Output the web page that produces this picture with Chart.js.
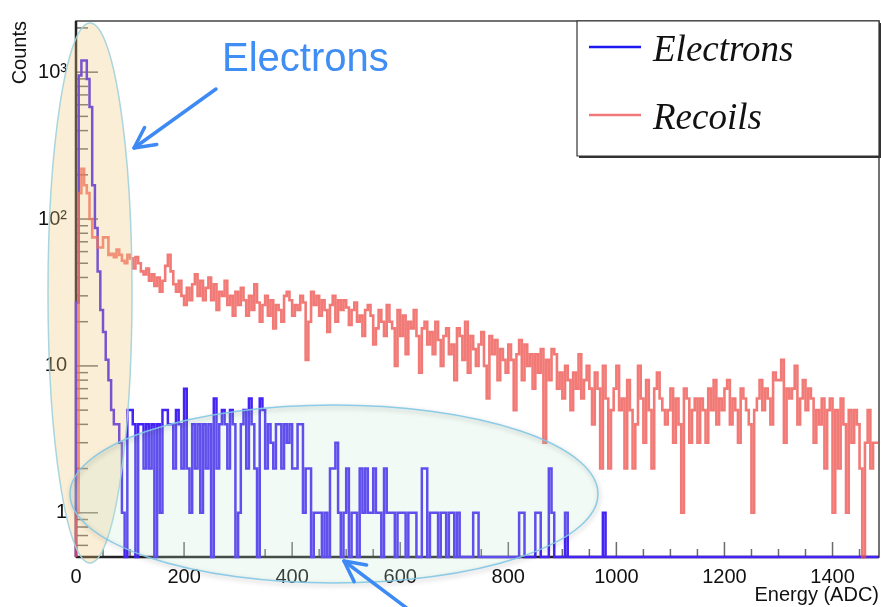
<!DOCTYPE html>
<html>
<head>
    <title>Electrons vs Recoils</title>
    <script src="https://cdn.jsdelivr.net/npm/chart.js"></script>
    <style>
        body {
            margin: 0;
            background: #fff;
        }
        #wrap {
            width: 881px;
            height: 607px;
        }
    </style>
</head>
<body>
    <div id="wrap"><canvas id="chart" width="881" height="607"></canvas></div>

    <script>
        // Histogram binning and axis ranges
        const BIN_WIDTH = 5;
        const X_MAX = 1486;
        const Y_MIN = 0.5;
        const Y_MAX = 2230;

        const xTickValues = [0, 200, 400, 600, 800, 1000, 1200, 1400];
        const yTickValues = [1, 10, 100, 1000];
        const yTickLabels = ['1', '10', '10²', '10³'];

        const seriesNames = ['Electrons', 'Recoils'];

        // Counts per 5 ADC bin
        const electrons = [
            0, 27, 950, 1200, 1200, 900, 580, 170, 87, 44,
            24, 17, 11, 8, 5, 4, 4, 3, 1, 0,
            5, 5, 4, 0, 4, 4, 2, 4, 2, 4,
            0, 4, 1, 5, 5, 4, 4, 2, 5, 4,
            2, 7, 2, 1, 4, 2, 4, 1, 4, 2,
            4, 0, 6, 2, 4, 5, 4, 2, 5, 4,
            0, 1, 4, 5, 2, 6, 4, 2, 0, 6,
            5, 2, 4, 3, 2, 4, 4, 2, 4, 3,
            4, 2, 2, 4, 4, 1, 2, 2, 0, 1,
            1, 1, 0, 1, 0, 2, 2, 3, 1, 0,
            1, 2, 0, 1, 1, 0, 2, 1, 2, 1,
            1, 2, 1, 1, 0, 2, 1, 1, 1, 0,
            1, 1, 1, 0, 1, 1, 1, 0, 0, 2,
            2, 0, 1, 1, 1, 0, 1, 1, 0, 1,
            1, 0, 1, 0, 0, 0, 0, 0, 1, 1,
            0, 0, 0, 0, 0, 0, 0, 0, 0, 0,
            0, 0, 0, 0, 0, 1, 1, 0, 0, 0,
            0, 1, 1, 0, 0, 0, 2, 1, 0, 0,
            0, 0, 1, 0, 0, 0, 0, 0, 0, 0,
            0, 0, 0, 0, 0, 0, 1, 0, 0, 0,
            0, 0, 0, 0, 0, 0, 0, 0, 0, 0,
            0, 0, 0, 0, 0, 0, 0, 0, 0, 0,
            0, 0, 0, 0, 0, 0, 0, 0, 0, 0,
            0, 0, 0, 0, 0, 0, 0, 0, 0, 0,
            0, 0, 0, 0, 0, 0, 0, 0, 0, 0,
            0, 0, 0, 0, 0, 0, 0, 0, 0, 0,
            0, 0, 0, 0, 0, 0, 0, 0, 0, 0,
            0, 0, 0, 0, 0, 0, 0, 0, 0, 0,
            0, 0, 0, 0, 0, 0, 0, 0, 0, 0,
            0, 0, 0, 0, 0, 0, 0
        ];

        const recoils = [
            0, 1, 150, 220, 170, 150, 100, 75, 75, 64,
            64, 75, 75, 57, 58, 55, 62, 57, 52, 50,
            57, 54, 46, 55, 50, 44, 42, 46, 38, 42,
            35, 40, 32, 38, 48, 57, 44, 36, 32, 38,
            30, 26, 34, 28, 36, 42, 30, 38, 28, 34,
            40, 28, 36, 24, 32, 30, 38, 26, 30, 22,
            32, 26, 34, 28, 22, 30, 24, 36, 27, 20,
            26, 30, 22, 28, 18, 26, 24, 20, 30, 32,
            28, 22, 26, 24, 30, 27, 11, 20, 32, 26,
            30, 22, 28, 24, 17, 26, 30, 20, 28, 24,
            28, 25, 19, 24, 27, 20, 22, 16, 24, 26,
            22, 14, 18, 24, 20, 16, 26, 20, 18, 10,
            24, 16, 22, 12, 20, 18, 24, 16, 9, 18,
            20, 14, 17, 12, 20, 15, 10, 16, 18, 12,
            14, 8, 18, 16, 11, 20, 9, 16, 13, 10,
            14, 17, 10, 6, 16, 12, 15, 8, 13, 11,
            9, 14, 11, 5, 12, 15, 8, 14, 10, 12,
            7, 12, 9, 13, 3, 11, 8, 13, 12, 7,
            9, 6, 10, 8, 5, 9, 7, 12, 6, 8,
            10, 7, 4, 9, 7, 2, 10, 6, 2, 5,
            7, 10, 5, 6, 2, 8, 5, 2, 4, 10,
            6, 3, 8, 5, 2, 7, 9, 6, 5, 4,
            5, 7, 3, 6, 4, 1, 7, 6, 3, 5,
            6, 3, 6, 5, 3, 7, 5, 8, 4, 6,
            5, 7, 8, 4, 6, 5, 3, 7, 6, 5,
            4, 1, 5, 6, 8, 5, 7, 6, 4, 9,
            8, 8, 11, 3, 7, 6, 7, 10, 4, 6,
            8, 5, 7, 6, 3, 5, 4, 6, 2, 5,
            6, 1, 5, 2, 6, 4, 1, 5, 3, 5,
            4, 2, 0, 3, 5, 2, 3
        ];

        const FONT = "'Liberation Sans', Arial, sans-serif";

        // bin contents -> step points at the bin edges
        // (empty bins sit on the bottom of the frame, as ROOT draws them)
        function toSteps(counts) {
            const pts = counts.map((c, i) => ({ x: i * BIN_WIDTH, y: c > 0 ? c : Y_MIN }));
            pts.push({ x: counts.length * BIN_WIDTH, y: pts[pts.length - 1].y });
            return pts;
        }

        function line(ctx, x1, y1, x2, y2) {
            ctx.beginPath();
            ctx.moveTo(x1, y1);
            ctx.lineTo(x2, y2);
            ctx.stroke();
        }

        // ROOT style frame with ticks on the inside
        const rootFrame = {
            id: 'rootFrame',
            beforeDatasetsDraw(chart) {
                const { ctx, chartArea: a, scales: { x, y } } = chart;
                ctx.save();
                ctx.strokeStyle = 'rgba(70,70,70,0.8)';
                ctx.lineWidth = 1.5;
                for (let v = 0; v <= X_MAX; v += 50) {
                    const px = x.getPixelForValue(v);
                    const len = v % 200 === 0 ? 15 : 8;
                    line(ctx, px, a.bottom, px, a.bottom - len);
                }
                for (let d = -1; d <= 3; d++) {
                    for (let m = 1; m <= 9; m++) {
                        const v = m * Math.pow(10, d);
                        if (v < Y_MIN || v > Y_MAX) continue;
                        const py = y.getPixelForValue(v);
                        line(ctx, a.left, py, a.left + (m === 1 ? 22 : 12), py);
                    }
                }
                ctx.strokeStyle = '#444';
                ctx.lineWidth = 1.5;
                ctx.strokeRect(a.left, a.top, a.right - a.left, a.bottom - a.top);
                ctx.strokeStyle = '#222';
                ctx.lineWidth = 2.5;
                line(ctx, a.left, a.top, a.left, a.bottom);
                line(ctx, a.left, a.bottom, a.right, a.bottom);
                ctx.restore();
            }
        };

        // highlight ellipses drawn over the histograms
        const highlights = {
            id: 'highlights',
            afterDatasetsDraw(chart) {
                const ctx = chart.ctx;
                ctx.save();
                ctx.beginPath();
                ctx.ellipse(90, 293, 42, 270, 0, 0, Math.PI * 2);
                ctx.fillStyle = 'rgba(242,200,120,0.3)';
                ctx.fill();
                ctx.strokeStyle = 'rgba(160,210,220,0.9)';
                ctx.lineWidth = 1.5;
                ctx.stroke();

                ctx.beginPath();
                ctx.ellipse(334, 494, 264, 89, 0, 0, Math.PI * 2);
                ctx.fillStyle = 'rgba(190,230,210,0.22)';
                ctx.fill();
                ctx.shadowColor = 'rgba(0,0,0,0.3)';
                ctx.shadowBlur = 5;
                ctx.shadowOffsetX = 1;
                ctx.shadowOffsetY = 2;
                ctx.strokeStyle = 'rgba(130,200,230,0.9)';
                ctx.lineWidth = 1.5;
                ctx.stroke();
                ctx.restore();
            }
        };

        function arrow(ctx, tx, ty, hx, hy) {
            const ang = Math.atan2(ty - hy, tx - hx);
            const wing = 23, spread = 0.47;
            line(ctx, tx, ty, hx, hy);
            ctx.beginPath();
            ctx.moveTo(hx + wing * Math.cos(ang - spread), hy + wing * Math.sin(ang - spread));
            ctx.lineTo(hx, hy);
            ctx.lineTo(hx + wing * Math.cos(ang + spread), hy + wing * Math.sin(ang + spread));
            ctx.stroke();
        }

        // annotation text, arrows and the boxed legend
        const overlay = {
            id: 'overlay',
            afterDraw(chart) {
                const { ctx, chartArea: a } = chart;
                ctx.save();
                ctx.strokeStyle = 'rgb(62,138,245)';
                ctx.lineWidth = 3.5;
                ctx.lineCap = 'round';
                ctx.lineJoin = 'round';
                arrow(ctx, 216, 89, 134, 148);
                arrow(ctx, 412, 612, 344, 561);

                ctx.fillStyle = 'rgb(62,142,245)';
                ctx.font = '40px ' + FONT;
                ctx.textBaseline = 'alphabetic';
                ctx.fillText('Electrons', 222, 71);

                // legend box
                const bx = 577, by = a.top, bw = a.right - 577, bh = 135;
                ctx.fillStyle = '#333';
                ctx.fillRect(bx + 2, by + 2, bw, bh);
                ctx.fillStyle = '#fff';
                ctx.fillRect(bx, by, bw, bh);
                ctx.strokeStyle = '#333';
                ctx.lineWidth = 1.2;
                ctx.strokeRect(bx, by, bw, bh);

                const rows = [
                    { y: 47, color: 'rgb(30,25,240)' },
                    { y: 115, color: 'rgb(240,120,120)' }
                ];
                ctx.font = 'italic 37px "Liberation Serif", "Times New Roman", serif';
                ctx.textBaseline = 'middle';
                chart.data.datasets.forEach((ds, i) => {
                    const r = rows[i];
                    ctx.strokeStyle = r.color;
                    ctx.lineWidth = 2.5;
                    ctx.lineCap = 'butt';
                    line(ctx, 589, r.y, 641, r.y);
                    ctx.fillStyle = '#111';
                    ctx.fillText(ds.label, 653, r.y + 4);
                });
                ctx.restore();
            }
        };

        new Chart(document.getElementById('chart'), {
            type: 'line',
            data: {
                datasets: [{
                    label: seriesNames[0],
                    data: toSteps(electrons),
                    borderColor: 'rgb(68,36,245)',
                    borderWidth: 2.5,
                    stepped: 'after',
                    pointRadius: 0,
                    fill: false,
                    clip: 4,
                    order: 2
                }, {
                    label: seriesNames[1],
                    data: toSteps(recoils),
                    borderColor: 'rgba(236,78,72,0.75)',
                    borderWidth: 2.6,
                    stepped: 'after',
                    pointRadius: 0,
                    fill: false,
                    clip: 4,
                    order: 1
                }]
            },
            options: {
                responsive: false,
                animation: false,
                layout: { padding: { top: 13, right: 2, left: 0, bottom: 0 } },
                plugins: {
                    legend: { display: false },
                    tooltip: { enabled: false }
                },
                scales: {
                    x: {
                        type: 'linear',
                        min: 0,
                        max: X_MAX,
                        afterFit(scale) { scale.height = 50; },
                        afterBuildTicks(scale) {
                            scale.ticks = xTickValues.map(v => ({ value: v }));
                        },
                        grid: { display: false, drawTicks: false },
                        border: { display: false },
                        ticks: {
                            padding: 8,
                            color: '#111',
                            maxRotation: 0,
                            font: { family: FONT, size: 20 },
                            callback: (v) => String(v)
                        },
                        title: {
                            display: true,
                            text: 'Energy (ADC)',
                            align: 'end',
                            color: '#111',
                            padding: { top: 0, bottom: 0 },
                            font: { family: FONT, size: 20 }
                        }
                    },
                    y: {
                        type: 'logarithmic',
                        min: Y_MIN,
                        max: Y_MAX,
                        afterFit(scale) { scale.width = 76; },
                        afterBuildTicks(scale) {
                            scale.ticks = yTickValues.map(v => ({ value: v }));
                        },
                        grid: { display: false, drawTicks: false },
                        border: { display: false },
                        ticks: {
                            padding: 9,
                            color: '#111',
                            font: { family: FONT, size: 20 },
                            callback: (v) => {
                                const i = yTickValues.indexOf(v);
                                return i >= 0 ? yTickLabels[i] : '';
                            }
                        },
                        title: {
                            display: true,
                            text: 'Counts',
                            align: 'end',
                            color: '#111',
                            padding: { top: 8, bottom: 0 },
                            font: { family: FONT, size: 20 }
                        }
                    }
                }
            },
            plugins: [rootFrame, highlights, overlay]
        });
    </script>
</body>
</html>
